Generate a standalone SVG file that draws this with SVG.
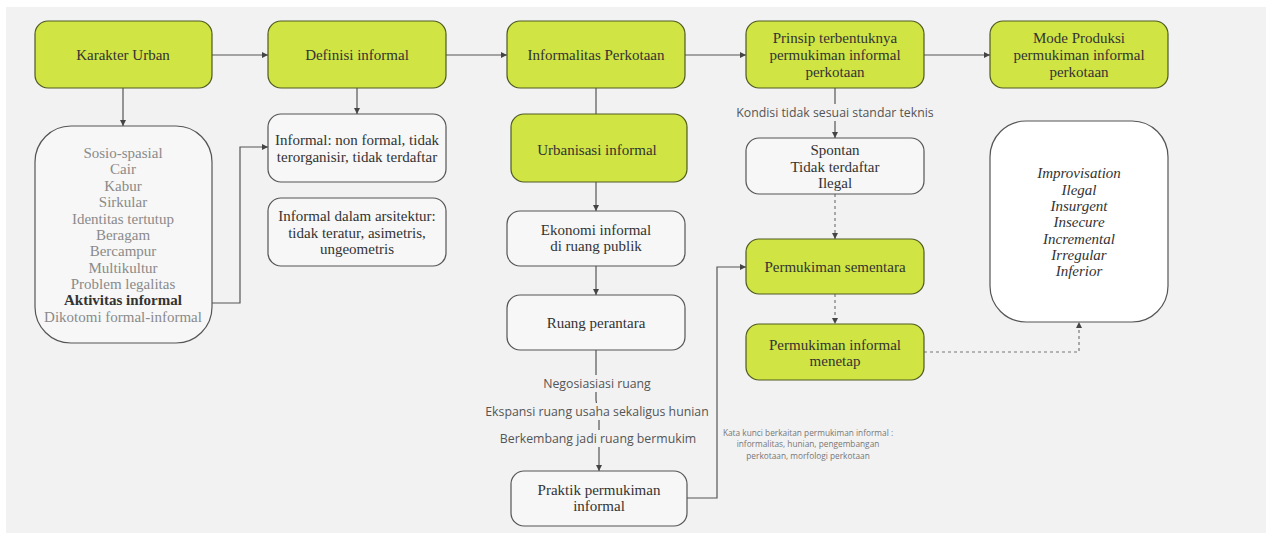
<svg xmlns="http://www.w3.org/2000/svg" width="1266" height="533" viewBox="0 0 1266 533">
<style>
.g{fill:#d0e443;stroke:#4f5a22;stroke-width:1.2}
.w{fill:#f7f7f7;stroke:#555;stroke-width:1.2}
.ww{fill:#ffffff;stroke:#555;stroke-width:1.2}
.t{font-family:"Liberation Serif",serif;font-size:15px;fill:#333;text-anchor:middle}
.tg{font-family:"Liberation Serif",serif;font-size:15px;fill:#8a8a8a;text-anchor:middle}
.ti{font-family:"Liberation Serif",serif;font-size:15px;font-style:italic;fill:#333;text-anchor:middle}
.s{font-family:"Open Sans",sans-serif;font-size:12.3px;fill:#555;text-anchor:middle}
.k{font-family:"Open Sans",sans-serif;font-size:8.3px;fill:#777;text-anchor:middle}
.c{fill:none;stroke:#555;stroke-width:1.2}
.d{fill:none;stroke:#777;stroke-width:1.2;stroke-dasharray:3 3}
</style>
<defs>
<marker id="a" viewBox="0 0 10 10" refX="10" refY="5" markerWidth="6" markerHeight="6" orient="auto" markerUnits="userSpaceOnUse"><path d="M0,0 L10,5 L0,10 z" fill="#444"/></marker>
</defs>
<rect x="0" y="0" width="1266" height="533" fill="#ffffff"/>
<rect x="6" y="7" width="1260" height="526" fill="#f2f2f2"/>

<g id="connectors">
<path class="c" d="M212,55 H268" marker-end="url(#a)"/>
<path class="c" d="M446,55 H507" marker-end="url(#a)"/>
<path class="c" d="M685,55 H746" marker-end="url(#a)"/>
<path class="c" d="M924,55 H990" marker-end="url(#a)"/>
<path class="c" d="M123,88 V126" marker-end="url(#a)"/>
<path class="c" d="M357,88 V114" marker-end="url(#a)"/>
<path class="c" d="M212,303 H240 V147 H268" marker-end="url(#a)"/>
<path class="c" d="M596,88 V114"/>
<path class="c" d="M596,182 V211" marker-end="url(#a)"/>
<path class="c" d="M596,266 V295" marker-end="url(#a)"/>
<path class="c" d="M596,350 V400 L599,420 V471" marker-end="url(#a)"/>
<path class="c" d="M687,498 H717 V267 H746" marker-end="url(#a)"/>
<path class="c" d="M835,88 V138" marker-end="url(#a)"/>
<path class="d" d="M835,194 V239" marker-end="url(#a)"/>
<path class="d" d="M835,294 V324" marker-end="url(#a)"/>
<path class="d" d="M924,352 H1079 V322" marker-end="url(#a)"/>
<g id="edge-labels">
<rect x="680" y="104" width="310" height="17" fill="#f2f2f2"/>
<text class="s" x="835" y="117">Kondisi tidak sesuai standar teknis</text>
<rect x="540" y="375" width="114" height="17" fill="#f2f2f2"/>
<text class="s" x="597" y="388">Negosiasiasi ruang</text>
<rect x="486" y="403" width="222" height="17" fill="#f2f2f2"/>
<text class="s" x="597" y="416">Ekspansi ruang usaha sekaligus hunian</text>
<rect x="503" y="430" width="192" height="17" fill="#f2f2f2"/>
<text class="s" x="598" y="443">Berkembang jadi ruang bermukim</text>
</g>
</g>

<g id="n-karakter"><rect class="g" x="35" y="21" width="177" height="67" rx="13"/><text class="t" x="123" y="60">Karakter Urban</text></g>
<g id="n-definisi"><rect class="g" x="268" y="21" width="178" height="67" rx="13"/><text class="t" x="357" y="60">Definisi informal</text></g>
<g id="n-informalitas"><rect class="g" x="507" y="21" width="178" height="67" rx="13"/><text class="t" x="596" y="60">Informalitas Perkotaan</text></g>
<g id="n-prinsip"><rect class="g" x="746" y="21" width="178" height="67" rx="13"/><text class="t" x="835" y="43">Prinsip terbentuknya</text><text class="t" x="835" y="60">permukiman informal</text><text class="t" x="835" y="77">perkotaan</text></g>
<g id="n-mode"><rect class="g" x="990" y="21" width="178" height="67" rx="13"/><text class="t" x="1079" y="43">Mode Produksi</text><text class="t" x="1079" y="60">permukiman informal</text><text class="t" x="1079" y="77">perkotaan</text></g>

<g id="n-karakter-list"><rect class="w" x="35" y="126" width="177" height="217" rx="36"/>
<text class="tg" x="123" y="158">Sosio-spasial</text>
<text class="tg" x="123" y="174">Cair</text>
<text class="tg" x="123" y="191">Kabur</text>
<text class="tg" x="123" y="207">Sirkular</text>
<text class="tg" x="123" y="224">Identitas tertutup</text>
<text class="tg" x="123" y="240">Beragam</text>
<text class="tg" x="123" y="256">Bercampur</text>
<text class="tg" x="123" y="273">Multikultur</text>
<text class="tg" x="123" y="289">Problem legalitas</text>
<text class="t" x="123" y="305" font-weight="bold" fill="#222">Aktivitas informal</text>
<text class="tg" x="123" y="322">Dikotomi formal-informal</text>
</g>

<g id="n-informal1"><rect class="w" x="268" y="114" width="178" height="68" rx="13"/><text class="t" x="357" y="145">Informal: non formal, tidak</text><text class="t" x="357" y="162">terorganisir, tidak terdaftar</text></g>
<g id="n-informal2"><rect class="w" x="268" y="198" width="178" height="68" rx="13"/><text class="t" x="357" y="221">Informal dalam arsitektur:</text><text class="t" x="357" y="238">tidak teratur, asimetris,</text><text class="t" x="357" y="254">ungeometris</text></g>

<g id="n-urbanisasi"><rect class="g" x="511" y="114" width="176" height="68" rx="13"/><text class="t" x="597" y="155">Urbanisasi informal</text></g>
<g id="n-ekonomi"><rect class="w" x="507" y="211" width="178" height="55" rx="13"/><text class="t" x="596" y="235">Ekonomi informal</text><text class="t" x="596" y="251">di ruang publik</text></g>
<g id="n-ruang"><rect class="w" x="507" y="295" width="178" height="55" rx="13"/><text class="t" x="596" y="328">Ruang perantara</text></g>
<g id="n-praktik"><rect class="w" x="511" y="471" width="176" height="55" rx="13"/><text class="t" x="599" y="495">Praktik permukiman</text><text class="t" x="599" y="511">informal</text></g>

<g id="n-spontan"><rect class="w" x="746" y="138" width="178" height="56" rx="13"/><text class="t" x="835" y="155">Spontan</text><text class="t" x="835" y="172">Tidak terdaftar</text><text class="t" x="835" y="188">Ilegal</text></g>
<g id="n-sementara"><rect class="g" x="746" y="239" width="178" height="55" rx="13"/><text class="t" x="835" y="272">Permukiman sementara</text></g>
<g id="n-menetap"><rect class="g" x="746" y="324" width="178" height="56" rx="13"/><text class="t" x="835" y="350">Permukiman informal</text><text class="t" x="835" y="366">menetap</text></g>

<g id="n-mode-list"><rect class="ww" x="990" y="121" width="178" height="201" rx="36"/>
<text class="ti" x="1079" y="178">Improvisation</text>
<text class="ti" x="1079" y="195">Ilegal</text>
<text class="ti" x="1079" y="211">Insurgent</text>
<text class="ti" x="1079" y="227">Insecure</text>
<text class="ti" x="1079" y="244">Incremental</text>
<text class="ti" x="1079" y="260">Irregular</text>
<text class="ti" x="1079" y="276">Inferior</text>
</g>

<g id="n-katakunci">
<text class="k" x="808" y="436">Kata kunci berkaitan permukiman informal :</text>
<text class="k" x="808" y="447">informalitas, hunian, pengembangan</text>
<text class="k" x="808" y="459">perkotaan, morfologi perkotaan</text>
</g>
</svg>
